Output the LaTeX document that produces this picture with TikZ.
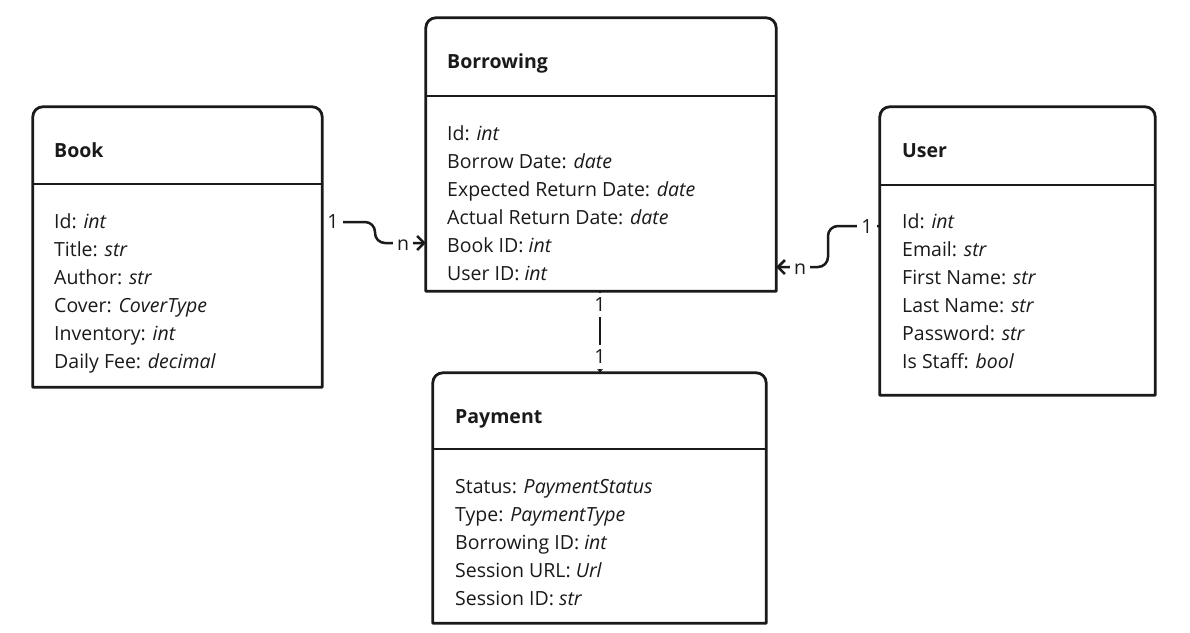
\documentclass[tikz,border=0pt]{standalone}
\usepackage{fontspec}
\setmainfont{Open Sans}
\usetikzlibrary{arrows.meta}
\definecolor{ink}{HTML}{1A1A1A}
\tikzset{
  boxarea/.style={rectangle, inner sep=0pt, draw=none},
  boxline/.style={draw=ink, line width=2.8pt, line join=round},
  divider/.style={draw=ink, line width=2.2pt},
  title/.style={anchor=base west, inner sep=0pt, text=ink, font=\fontsize{19.5}{23}\selectfont\bfseries},
  attr/.style={anchor=base west, inner sep=0pt, text=ink, font=\fontsize{19.5}{23}\selectfont},
  conn/.style={draw=ink, line width=2.5pt, rounded corners=10pt},
  barb/.style={-{Straight Barb[length=7pt,width=14pt,line width=2.5pt]}},
  mult/.style={fill=white, inner xsep=4pt, inner ysep=3pt, text=ink, font=\fontsize{19.5}{23}\selectfont},
  vmult/.style={fill=white, inner xsep=4pt, inner ysep=0pt, minimum height=24pt, text=ink, font=\fontsize{19.5}{23}\selectfont},
}
\newcommand\umlbox[1]{%
  \draw[boxline] (#1.south west) -- ([yshift=-10pt]#1.north west)
    arc[start angle=180,end angle=90,radius=10pt]
    -- ([xshift=-10pt]#1.north east)
    arc[start angle=90,end angle=0,radius=10pt]
    -- (#1.south east) -- cycle;}
\begin{document}
\begin{tikzpicture}[x=1pt,y=1pt]
\useasboundingbox[fill=white] (0,0) rectangle (1190,-632);

% box areas
\node[boxarea, minimum width=289pt, minimum height=280pt] (book) at (177.5,-247) {};
\node[boxarea, minimum width=350pt, minimum height=273pt] (borrowing) at (601,-154.5) {};
\node[boxarea, minimum width=275pt, minimum height=288pt] (user) at (1017.5,-251) {};
\node[boxarea, minimum width=333pt, minimum height=250pt] (payment) at (599.5,-498) {};

% connectors
\draw[conn, barb] (book.east |- 0,-222) -- (375,-222) -- (375,-243) -- (borrowing.west |- 0,-243);
\draw[conn, barb] (user.west |- 0,-226) -- (828,-226) -- (828,-267) -- (borrowing.east |- 0,-267);
\draw[draw=ink, line width=2.5pt, -{Stealth[length=4pt,width=6pt]}] (borrowing.south -| 600,0) -- (payment.north -| 600,0);

% multiplicities
\node[mult] (m-book) at (333,-222) {1};
\node[mult] (m-bb) at (403,-245) {n};
\node[mult] (m-user) at (867,-227) {1};
\node[mult] (m-bu) at (800,-269) {n};
\node[vmult] (m-bp1) at (600,-305) {1};
\node[vmult] (m-bp2) at (600,-357) {1};

% outlines
\umlbox{book}
\umlbox{borrowing}
\umlbox{user}
\umlbox{payment}
\draw[divider] (book.west |- 0,-184) -- (book.east |- 0,-184);
\draw[divider] (borrowing.west |- 0,-96) -- (borrowing.east |- 0,-96);
\draw[divider] (user.west |- 0,-185) -- (user.east |- 0,-185);
\draw[divider] (payment.west |- 0,-449) -- (payment.east |- 0,-449);

% Book
\node[title] (book-t) at (54,-157) {Book};
\node[attr] (book-a1) at (54,-228) {Id: \textit{int}};
\node[attr] (book-a2) at (54,-256) {Title: \textit{str}};
\node[attr] (book-a3) at (54,-284) {Author: \textit{str}};
\node[attr] (book-a4) at (54,-312) {Cover: \textit{CoverType}};
\node[attr] (book-a5) at (54,-340) {Inventory: \textit{int}};
\node[attr] (book-a6) at (54,-368) {Daily Fee: \textit{decimal}};

% Borrowing
\node[title] (bor-t) at (447,-68) {Borrowing};
\node[attr] (bor-a1) at (447,-140) {Id: \textit{int}};
\node[attr] (bor-a2) at (447,-168) {Borrow Date: \textit{date}};
\node[attr] (bor-a3) at (447,-196) {Expected Return Date: \textit{date}};
\node[attr] (bor-a4) at (447,-224) {Actual Return Date: \textit{date}};
\node[attr] (bor-a5) at (447,-252) {Book ID: \textit{int}};
\node[attr] (bor-a6) at (447,-280) {User ID: \textit{int}};

% User
\node[title] (user-t) at (902,-157) {User};
\node[attr] (user-a1) at (902,-228) {Id: \textit{int}};
\node[attr] (user-a2) at (902,-256) {Email: \textit{str}};
\node[attr] (user-a3) at (902,-284) {First Name: \textit{str}};
\node[attr] (user-a4) at (902,-312) {Last Name: \textit{str}};
\node[attr] (user-a5) at (902,-340) {Password: \textit{str}};
\node[attr] (user-a6) at (902,-368) {Is Staff: \textit{bool}};

% Payment
\node[title] (pay-t) at (455,-423) {Payment};
\node[attr] (pay-a1) at (455,-493) {Status: \textit{PaymentStatus}};
\node[attr] (pay-a2) at (455,-521) {Type: \textit{PaymentType}};
\node[attr] (pay-a3) at (455,-549) {Borrowing ID: \textit{int}};
\node[attr] (pay-a4) at (455,-577) {Session URL: \textit{Url}};
\node[attr] (pay-a5) at (455,-605) {Session ID: \textit{str}};
\end{tikzpicture}
\end{document}
